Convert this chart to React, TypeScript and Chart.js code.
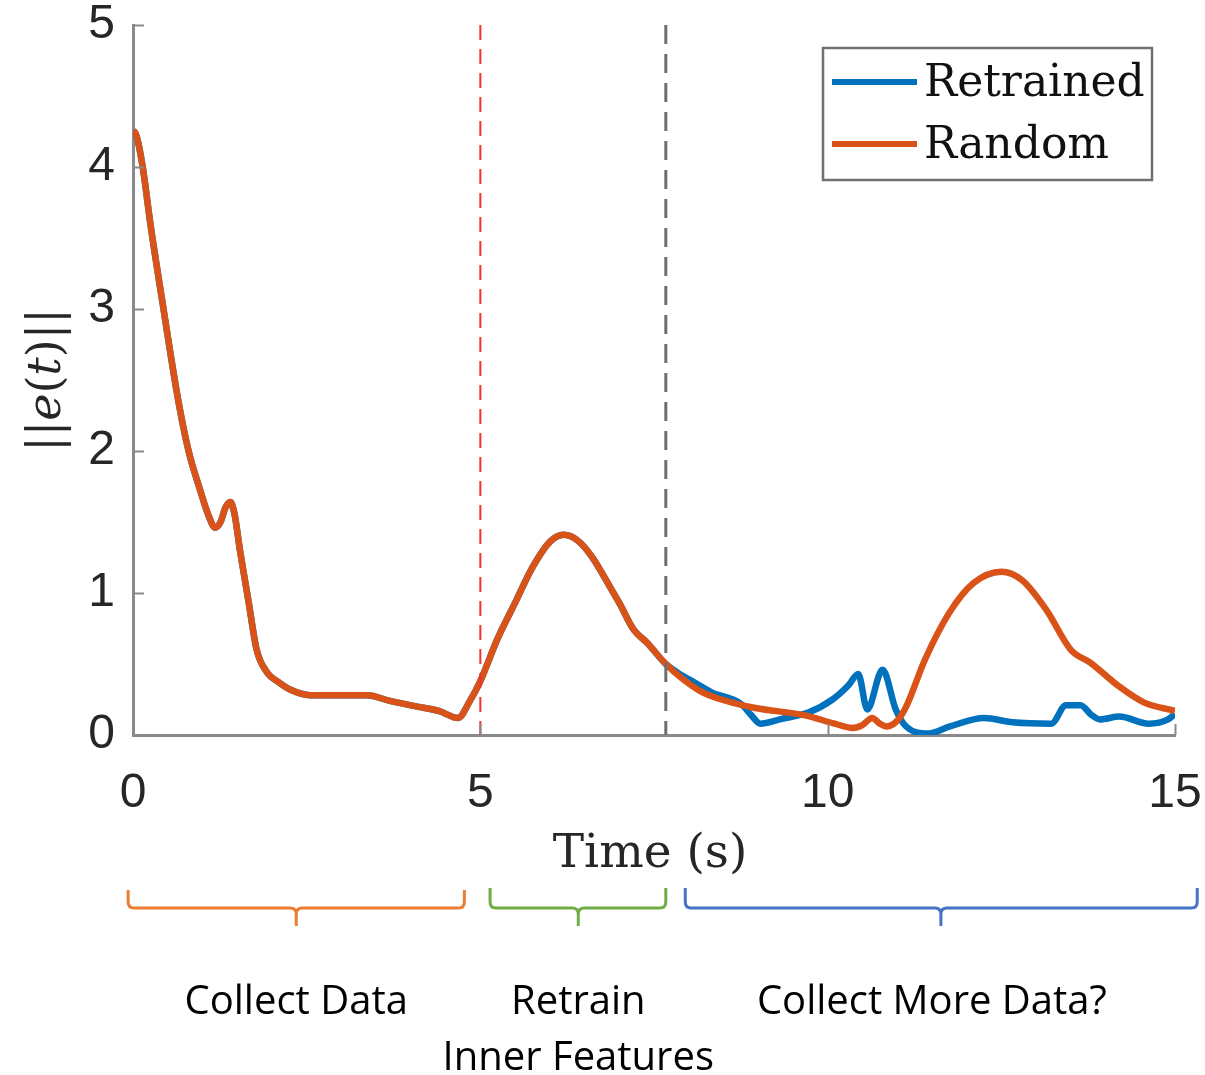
import React, { useEffect, useRef } from "react";
import { Chart, registerables } from "chart.js";

Chart.register(...registerables);

// ---------------- data ----------------
const randomTime = [
  0, 0.05, 0.14, 0.25, 0.42, 0.65, 0.8, 0.95, 1.1, 1.18, 1.26, 1.33, 1.4, 1.46, 1.54, 1.66, 1.78, 1.93, 2.1, 2.26,
  2.55, 3.0, 3.37, 3.7, 4.09, 4.4, 4.68, 4.85, 5.0, 5.25, 5.5, 5.75, 6.0, 6.2, 6.4, 6.6, 6.87, 7.0, 7.21, 7.4,
  7.67, 7.9, 8.2, 8.47, 8.96, 9.66, 10.1, 10.36, 10.5, 10.64, 10.75, 10.85, 11.0, 11.13, 11.4, 11.75, 12.1, 12.5,
  12.8, 13.15, 13.5, 13.78, 14.2, 14.55, 15.0,
];
const randomValue = [
  4.26, 4.22, 4.0, 3.6, 3.06, 2.36, 2.0, 1.75, 1.53, 1.46, 1.5, 1.6, 1.64, 1.56, 1.3, 0.95, 0.6, 0.44, 0.37, 0.32,
  0.28, 0.28, 0.28, 0.24, 0.2, 0.17, 0.12, 0.24, 0.38, 0.68, 0.93, 1.18, 1.36, 1.41, 1.37, 1.26, 1.04, 0.93, 0.74, 0.65,
  0.5, 0.4, 0.3, 0.25, 0.19, 0.14, 0.08, 0.05, 0.07, 0.12, 0.08, 0.06, 0.1, 0.2, 0.53, 0.86, 1.07, 1.15,
  1.09, 0.88, 0.6, 0.51, 0.34, 0.23, 0.17,
];
// Retrained follows Random until the split, then diverges
const retrainedSplit = 7.7;
const retrainedTailTime = [
  7.9, 8.05, 8.33, 8.75, 8.9, 9.03, 9.31, 9.73, 10.07, 10.3, 10.44, 10.57, 10.79, 10.98, 11.13, 11.45, 11.76, 12.25,
  12.66, 13.22, 13.43, 13.64, 13.8, 13.92, 14.2, 14.62, 14.9, 15.0,
];
const retrainedTailValue = [
  0.42, 0.38, 0.3, 0.22, 0.14, 0.08, 0.11, 0.16, 0.25, 0.35, 0.43, 0.18, 0.46, 0.18, 0.06, 0.01, 0.06, 0.12,
  0.09, 0.08, 0.21, 0.21, 0.14, 0.11, 0.13, 0.08, 0.11, 0.15,
];
const seriesLabels = ["Retrained", "Random"];
const seriesColors = ["#0072BD", "#D95319"];

const xTicks = [0, 5, 10, 15];
const yTicks = [0, 1, 2, 3, 4, 5];
const xTitle = "Time (s)";

const markerTimes = [5, 7.67];
const markerColors = ["#F23030", "#6E6E6E"];

const phaseLines = [["Collect Data"], ["Retrain", "Inner Features"], ["Collect More Data?"]];
const phaseStart = [-0.07, 5.14, 7.95];
const phaseEnd = [4.77, 7.67, 15.32];
const phaseMid = [2.35, 6.41, 11.63];
const phaseTextCenter = [2.35, 6.41, 11.5];
const phaseColors = ["#ED7D31", "#70AD47", "#4472C4"];

// ---------------- helpers ----------------
const zip = (xs: number[], ys: number[]) => xs.map((x, i) => ({ x, y: ys[i] }));

const AXIS_COLOR = "#8a8a8a";
const TICK_FONT = "Liberation Sans";

export default function App() {
  const ref = useRef<HTMLCanvasElement>(null);

  useEffect(() => {
    document.body.style.margin = "0";
    const randomPts = zip(randomTime, randomValue);
    const retrainedPts = randomPts
      .filter((p) => p.x <= retrainedSplit)
      .concat(zip(retrainedTailTime, retrainedTailValue));

    const decor = {
      id: "decor",
      beforeDraw(chart: any) {
        const { ctx } = chart;
        ctx.save();
        ctx.fillStyle = "#ffffff";
        ctx.fillRect(0, 0, chart.width, chart.height);
        ctx.restore();
      },
      afterDraw(chart: any) {
        const { ctx, chartArea } = chart;
        const xs = chart.scales.x;
        const ys = chart.scales.y;
        ctx.save();
        // inward ticks
        ctx.strokeStyle = AXIS_COLOR;
        ctx.lineWidth = 2;
        yTicks.forEach((v) => {
          const y = Math.round(ys.getPixelForValue(v)) + 0.5;
          ctx.beginPath();
          ctx.moveTo(chartArea.left, y);
          ctx.lineTo(chartArea.left + 11, y);
          ctx.stroke();
        });
        xTicks.forEach((v) => {
          const x = Math.round(xs.getPixelForValue(v)) + 0.5;
          ctx.beginPath();
          ctx.moveTo(x, chartArea.bottom);
          ctx.lineTo(x, chartArea.bottom - 11);
          ctx.stroke();
        });

        // y title ||e(t)||
        ctx.save();
        const midY = (chartArea.top + chartArea.bottom) / 2;
        ctx.translate(60, midY);
        ctx.rotate(-Math.PI / 2);
        const parts: [string, boolean][] = [
          ["||", false],
          ["e", true],
          ["(", false],
          ["t", true],
          [")", false],
          ["||", false],
        ];
        const fontFor = (it: boolean) => `${it ? "italic " : ""}46px "DejaVu Serif"`;
        let total = 0;
        parts.forEach(([s, it]) => {
          ctx.font = fontFor(it);
          total += ctx.measureText(s).width;
        });
        let cx = -total / 2;
        ctx.fillStyle = "#262626";
        ctx.textBaseline = "alphabetic";
        ctx.textAlign = "left";
        parts.forEach(([s, it]) => {
          ctx.font = fontFor(it);
          ctx.fillText(s, cx, 0);
          cx += ctx.measureText(s).width;
        });
        ctx.restore();

        // x title
        ctx.fillStyle = "#262626";
        ctx.font = '47px "DejaVu Serif"';
        ctx.textAlign = "center";
        ctx.textBaseline = "alphabetic";
        ctx.fillText(xTitle, (chartArea.left + chartArea.right) / 2 - 4, 867);

        // legend
        const bx = chartArea.right - 352;
        const by = chartArea.top + 23;
        ctx.strokeStyle = "#707070";
        ctx.lineWidth = 2.5;
        ctx.fillStyle = "#ffffff";
        ctx.fillRect(bx, by, 329, 132);
        ctx.strokeRect(bx, by, 329, 132);
        seriesLabels.forEach((lab, i) => {
          const y = by + 34 + i * 62;
          ctx.strokeStyle = seriesColors[i];
          ctx.lineWidth = 6;
          ctx.beginPath();
          ctx.moveTo(bx + 9, y);
          ctx.lineTo(bx + 94, y);
          ctx.stroke();
          ctx.fillStyle = "#111111";
          ctx.font = '44px "DejaVu Serif"';
          ctx.textAlign = "left";
          ctx.textBaseline = "alphabetic";
          ctx.fillText(lab, bx + 101, y + 14);
        });

        // phase braces and labels
        phaseLines.forEach((lines, i) => {
          const x1 = xs.getPixelForValue(phaseStart[i]);
          const x2 = xs.getPixelForValue(phaseEnd[i]);
          const xm = xs.getPixelForValue(phaseMid[i]);
          const yTop = i === 0 ? 890 : 888;
          const yLine = 908;
          const yTip = 926;
          const r = 6;
          ctx.strokeStyle = phaseColors[i];
          ctx.lineWidth = 3;
          ctx.beginPath();
          ctx.moveTo(x1, yTop);
          ctx.lineTo(x1, yLine - r);
          ctx.quadraticCurveTo(x1, yLine, x1 + r, yLine);
          ctx.lineTo(xm - r, yLine);
          ctx.quadraticCurveTo(xm, yLine, xm, yLine + r);
          ctx.lineTo(xm, yTip);
          ctx.moveTo(xm, yLine + r);
          ctx.quadraticCurveTo(xm, yLine, xm + r, yLine);
          ctx.lineTo(x2 - r, yLine);
          ctx.quadraticCurveTo(x2, yLine, x2, yLine - r);
          ctx.lineTo(x2, yTop);
          ctx.stroke();

          const tx = xs.getPixelForValue(phaseTextCenter[i]);
          ctx.fillStyle = "#000000";
          ctx.font = '40px "Open Sans"';
          ctx.textAlign = "center";
          ctx.textBaseline = "alphabetic";
          lines.forEach((line, j) => {
            ctx.fillText(line, tx, 1014 + j * 56);
          });
        });
        ctx.restore();
      },
    };

    const chart = new Chart(ref.current!, {
      type: "line",
      data: {
        datasets: [
          ...markerTimes.map((t, i) => ({
            label: "marker" + i,
            data: [
              { x: t, y: 5 },
              { x: t, y: 0 },
            ],
            borderColor: markerColors[i],
            borderWidth: i === 0 ? 2 : 3,
            borderDash: i === 0 ? [15, 9] : [19, 10],
            pointRadius: 0,
            order: 0,
          })),
          {
            label: seriesLabels[1],
            data: randomPts,
            borderColor: seriesColors[1],
            borderWidth: 6.5,
            pointRadius: 0,
            cubicInterpolationMode: "monotone",
            order: 1,
          },
          {
            label: seriesLabels[0],
            data: retrainedPts,
            borderColor: seriesColors[0],
            borderWidth: 6.5,
            pointRadius: 0,
            cubicInterpolationMode: "monotone",
            order: 2,
          },
        ],
      },
      options: {
        animation: false,
        responsive: false,
        devicePixelRatio: 1,
        layout: { padding: { left: 0, right: 30, top: 25, bottom: 0 } },
        plugins: { legend: { display: false }, tooltip: { enabled: false } },
        scales: {
          x: {
            type: "linear",
            min: 0,
            max: 15,
            afterBuildTicks: (s: any) => {
              s.ticks = xTicks.map((v) => ({ value: v }));
            },
            afterFit: (s: any) => {
              s.height = 340;
              s.paddingLeft = 0;
              s.paddingRight = 0;
            },
            ticks: {
              maxRotation: 0,
              autoSkip: false,
              padding: 30,
              color: "#262626",
              font: { family: TICK_FONT, size: 48 },
            },
            grid: { display: false, drawTicks: false },
            border: { display: true, color: AXIS_COLOR, width: 3 },
          },
          y: {
            type: "linear",
            min: 0,
            max: 5,
            afterBuildTicks: (s: any) => {
              s.ticks = yTicks.map((v) => ({ value: v }));
            },
            afterFit: (s: any) => {
              s.width = 133;
              s.paddingTop = 0;
              s.paddingBottom = 0;
            },
            ticks: {
              padding: 18,
              color: "#262626",
              font: { family: TICK_FONT, size: 48 },
            },
            grid: { display: false, drawTicks: false },
            border: { display: true, color: AXIS_COLOR, width: 3 },
          },
        },
      },
      plugins: [decor],
    } as any);
    return () => chart.destroy();
  }, []);

  return (
    <div style={{ width: 1205, height: 1075, background: "#fff" }}>
      <canvas ref={ref} width={1205} height={1075} style={{ display: "block", width: 1205, height: 1075 }} />
    </div>
  );
}
